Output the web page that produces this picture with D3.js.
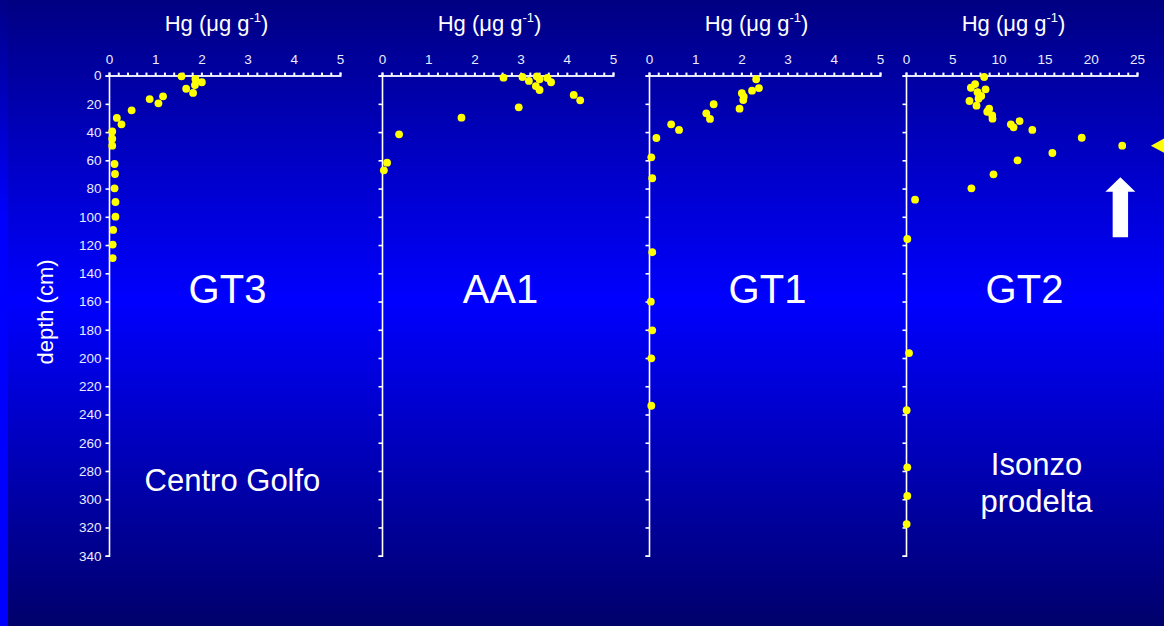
<!DOCTYPE html>
<html>
<head>
<meta charset="utf-8">
<script src="https://cdn.jsdelivr.net/npm/d3@7"></script>
<style>
    html, body { margin: 0; padding: 0; background: #000080; }
    svg { display: block; font-family: "Liberation Sans", Arial, sans-serif; }
</style>
</head>
<body>
<svg id="chart" width="1164" height="626"></svg>
<script>
// cores shown as panels, left to right
const cores = ["GT3", "AA1", "GT1", "GT2"];
const hgMax = [5, 5, 5, 25];
const hgMajorStep = [1, 1, 1, 5];
const hgMinorStep = [0.2, 0.2, 0.2, 1];
const depthTicks = d3.range(0, 341, 20);

// Hg (ug/g) and depth (cm) per core
const gt3Hg    = [1.57, 1.87, 2.01, 1.86, 1.67, 1.82, 1.17, 0.88, 1.07, 0.49, 0.17, 0.27, 0.07, 0.07, 0.07, 0.12, 0.13, 0.12, 0.14, 0.14, 0.09, 0.08, 0.08];
const gt3Depth = [0.5, 2.4, 4.7, 6.7, 9.3, 12.3, 14.7, 16.6, 19.6, 24.6, 30, 34.5, 39.5, 44.7, 49.6, 62.6, 69.7, 79.8, 89.5, 99.9, 109.3, 119.7, 129.2];

const aa1Hg    = [2.63, 3.04, 3.18, 3.35, 3.41, 3.58, 3.66, 3.33, 3.41, 4.15, 4.29, 2.96, 1.72, 0.37, 0.11, 0.04];
const aa1Depth = [1.5, 1.0, 3.8, 0.5, 2.6, 1.7, 4.7, 7.4, 10.2, 13.7, 17.5, 22.5, 29.8, 41.6, 61.7, 67.1];

const gt1Hg    = [2.32, 2.38, 2.23, 2.01, 2.05, 2.04, 1.96, 1.40, 1.24, 1.32, 0.48, 0.65, 0.16, 0.05, 0.07, 0.07, 0.04, 0.07, 0.05, 0.05];
const gt1Depth = [2.6, 8.8, 10.7, 12.5, 14.9, 17.3, 23.4, 20.3, 26.7, 30.7, 34.5, 38.5, 44.2, 57.9, 72.7, 125.1, 160.1, 180.4, 200.2, 233.8];

const gt2Hg    = [8.46, 7.48, 7.02, 8.61, 7.74, 8.14, 7.85, 6.87, 7.63, 9.0, 8.79, 9.33, 9.36, 12.29, 11.35, 11.64, 13.67, 19.02, 23.4, 15.84, 12.07, 9.47, 7.08, 0.98, 0.14, 0.33, 0.07, 0.14, 0.14, 0.07];
const gt2Depth = [1.0, 6, 8.6, 9.7, 11.8, 14.4, 16.4, 18, 21.3, 23.4, 25.6, 28.1, 30.5, 32.2, 34.5, 36.6, 38.5, 44, 49.6, 54.8, 60, 69.9, 79.8, 87.9, 115.7, 196.5, 237, 277.4, 297.7, 317.6];

const hgSeries = [gt3Hg, aa1Hg, gt1Hg, gt2Hg];
const depthSeries = [gt3Depth, aa1Depth, gt1Depth, gt2Depth];

// text labels inside the panels
const siteLabels = [["Centro Golfo"], [], [], ["Isonzo", "prodelta"]];

// arrow and pointer on GT2 (data units)
const arrowHg = 23.2, arrowTop = 72, arrowBottom = 114.5;
const pointerHg = 26.5, pointerDepth = 49.6;

// layout
const panelLeft = [109, 382, 649, 906];
const panelWidth = 231;
const plotTop = 75.6, plotBottom = 555.7;

let svg = d3.select("#chart");

// background gradients
let defs = svg.append("defs");
let bg = defs.append("linearGradient").attr("id", "bg")
    .attr("x1", 0).attr("y1", 0).attr("x2", 0).attr("y2", 1);
bg.append("stop").attr("offset", "0%").attr("stop-color", "#000082");
bg.append("stop").attr("offset", "48%").attr("stop-color", "#0000ff");
bg.append("stop").attr("offset", "100%").attr("stop-color", "#00006b");
let strip = defs.append("linearGradient").attr("id", "strip")
    .attr("x1", 0).attr("y1", 0).attr("x2", 0).attr("y2", 1);
strip.append("stop").attr("offset", "0%").attr("stop-color", "#000088");
strip.append("stop").attr("offset", "35%").attr("stop-color", "#0000ff");
strip.append("stop").attr("offset", "100%").attr("stop-color", "#0000ff");

svg.append("rect").attr("width", 1164).attr("height", 626).attr("fill", "url(#bg)");
svg.append("rect").attr("width", 8).attr("height", 626).attr("fill", "url(#strip)");

// shared depth scale
let yScale = d3.scaleLinear().domain([0, 340]).range([plotTop, plotBottom]);

let gt2Scale = null;

cores.forEach(function(core, i) {
    let x0 = panelLeft[i];
    let xScale = d3.scaleLinear().domain([0, hgMax[i]]).range([x0, x0 + panelWidth]);
    if (core === "GT2") gt2Scale = xScale;

    // x axis on top with minor ticks
    let major = hgMajorStep[i];
    let xAxis = d3.axisTop(xScale)
        .tickValues(d3.range(0, hgMax[i] + 1e-6, hgMinorStep[i]))
        .tickFormat(function(v) {
            let k = v / major;
            return Math.abs(k - Math.round(k)) < 1e-6 ? Math.round(v) : "";
        })
        .tickSize(3)
        .tickPadding(9);
    let gx = svg.append("g")
        .attr("transform", "translate(0," + plotTop + ")")
        .call(xAxis);
    gx.select(".domain").attr("stroke", "#e4e4ff").attr("stroke-width", 2);
    gx.selectAll(".tick line").attr("stroke", "#ffffff").attr("stroke-width", 2);
    gx.selectAll("text").attr("fill", "#ececff").attr("font-size", "13.5px")
        .attr("font-family", "Liberation Sans, Arial, sans-serif");

    // y axis, labels only on the first panel
    let yAxis = d3.axisLeft(yScale)
        .tickValues(depthTicks)
        .tickSize(3.5)
        .tickPadding(4)
        .tickFormat(i === 0 ? d3.format("d") : "");
    let gy = svg.append("g")
        .attr("transform", "translate(" + x0 + ",0)")
        .call(yAxis);
    gy.select(".domain").attr("stroke", "#ffffff").attr("stroke-width", 1.6);
    gy.selectAll(".tick line").attr("stroke", "#ffffff").attr("stroke-width", 1.6);
    gy.selectAll("text").attr("fill", "#ececff").attr("font-size", "13.5px")
        .attr("font-family", "Liberation Sans, Arial, sans-serif");

    // axis title
    let title = svg.append("text")
        .attr("x", x0 + panelWidth / 2 - 8)
        .attr("y", 31)
        .attr("text-anchor", "middle")
        .attr("fill", "#ffffff")
        .attr("font-size", "22px")
        .text("Hg (μg g");
    title.append("tspan").attr("font-size", "13px").attr("dy", -9).text("-1");
    title.append("tspan").attr("dy", 9).text(")");

    // core name
    svg.append("text")
        .attr("x", x0 + panelWidth / 2 + 3)
        .attr("y", 303)
        .attr("text-anchor", "middle")
        .attr("fill", "#ffffff")
        .attr("font-size", "40px")
        .text(core);

    // site label
    let lines = siteLabels[i];
    let startY = lines.length > 1 ? 475 : 491;
    lines.forEach(function(line, j) {
        svg.append("text")
            .attr("x", x0 + panelWidth / 2 + (lines.length > 1 ? 15 : 8))
            .attr("y", startY + j * 37)
            .attr("text-anchor", "middle")
            .attr("fill", "#ffffff")
            .attr("font-size", "31px")
            .text(line);
    });

    // data points
    let datum = hgSeries[i].map(function(h, k) { return [h, depthSeries[i][k]]; });
    svg.append("g").selectAll("circle")
        .data(datum)
        .join("circle")
        .attr("cx", function(d) { return xScale(d[0]); })
        .attr("cy", function(d) { return yScale(d[1]); })
        .attr("r", 3.9)
        .attr("fill", "#ffff00");
});

// white up arrow below the GT2 maximum
let ax = gt2Scale(arrowHg);
let aTop = yScale(arrowTop), aBot = yScale(arrowBottom);
let headBase = aTop + 14.5;
svg.append("path")
    .attr("d", d3.line()([
        [ax, aTop], [ax + 15, headBase], [ax + 7.7, headBase], [ax + 7.7, aBot],
        [ax - 7.7, aBot], [ax - 7.7, headBase], [ax - 15, headBase]
    ]) + "Z")
    .attr("fill", "#ffffff");

// yellow pointer at the right edge
let px = gt2Scale(pointerHg), py = yScale(pointerDepth);
svg.append("path")
    .attr("d", d3.line()([[px, py], [px + 26, py - 14], [px + 26, py + 14]]) + "Z")
    .attr("fill", "#ffff00");

// depth label
svg.append("text")
    .attr("transform", "translate(53,312) rotate(-90)")
    .attr("text-anchor", "middle")
    .attr("fill", "#ffffff")
    .attr("font-size", "22px")
    .text("depth (cm)");
</script>
</body>
</html>
